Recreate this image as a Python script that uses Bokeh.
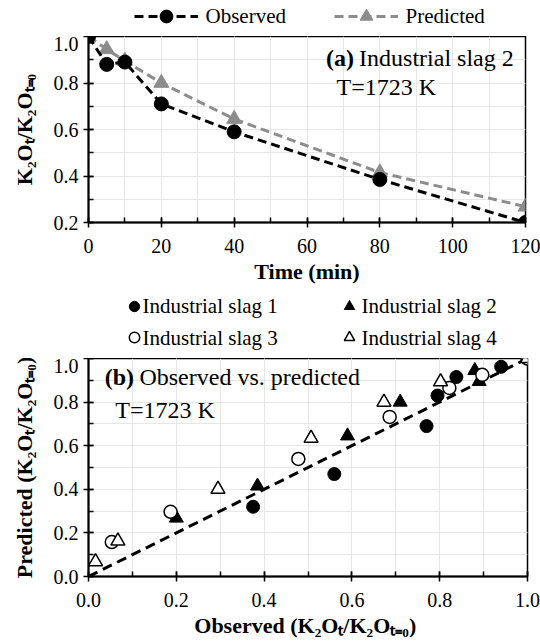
from bokeh.plotting import figure
from bokeh.layouts import column
from bokeh.models import (Range1d, SingleIntervalTicker, PrintfTickFormatter,
                          Legend, LegendItem, Label)
from bokeh.embed import file_html
from bokeh.resources import INLINE

# ---------------- data ----------------
time_min = [0, 5, 10, 20, 40, 80, 120]
observed = [1.0, 0.88, 0.89, 0.71, 0.59, 0.385, 0.20]
predicted = [1.0, 0.945, 0.895, 0.80, 0.645, 0.415, 0.268]

slag1_obs = [0.375, 0.56, 0.77, 0.795, 0.838, 0.94, 1.0]
slag1_pred = [0.32, 0.47, 0.69, 0.83, 0.915, 0.962, 1.0]
slag2_obs = [0.20, 0.385, 0.59, 0.71, 0.88, 0.89, 1.0]
slag2_pred = [0.268, 0.415, 0.645, 0.80, 0.945, 0.895, 1.0]
slag3_obs = [0.053, 0.187, 0.478, 0.686, 0.822, 0.897, 1.0]
slag3_pred = [0.158, 0.297, 0.539, 0.732, 0.865, 0.925, 1.0]
slag4_obs = [0.016, 0.067, 0.295, 0.507, 0.673, 0.802, 1.0]
slag4_pred = [0.068, 0.163, 0.40, 0.634, 0.80, 0.893, 1.0]
fit_x = [0.0, 1.0]
fit_y = [0.0, 1.0]

top_legend_labels = ["Observed", "Predicted"]
bottom_legend_labels = ["Industrial slag 1", "Industrial slag 2",
                        "Industrial slag 3", "Industrial slag 4"]

FONT = "Liberation Serif"
GRID = "#e6e6e6"
GRAY = "#8c8c8c"


def style(p, xint, yint, yfmt, xfmt=None):
    p.outline_line_color = "black"
    p.outline_line_width = 1.5
    p.background_fill_color = "white"
    p.border_fill_color = "white"
    p.xaxis.ticker = SingleIntervalTicker(interval=xint, num_minor_ticks=2)
    p.yaxis.ticker = SingleIntervalTicker(interval=yint, num_minor_ticks=2)
    p.yaxis.formatter = PrintfTickFormatter(format=yfmt)
    if xfmt:
        p.xaxis.formatter = PrintfTickFormatter(format=xfmt)
    for ax in (p.xaxis, p.yaxis):
        ax.axis_line_color = "black"
        ax.axis_line_width = 2
        ax.major_tick_line_color = "black"
        ax.major_tick_line_width = 1.5
        ax.minor_tick_line_color = "black"
        ax.minor_tick_line_width = 1.5
        ax.major_tick_in = 5
        ax.major_tick_out = 5
        ax.minor_tick_in = 5
        ax.minor_tick_out = 0
        ax.major_label_text_font = FONT
        ax.major_label_text_font_size = "20px"
        ax.major_label_text_color = "black"
        ax.axis_label_text_font = FONT
        ax.axis_label_text_font_size = "22px"
        ax.axis_label_text_font_style = "bold"
        ax.axis_label_text_color = "black"
    p.xaxis.major_label_standoff = 11
    p.xaxis.axis_label_standoff = 3
    p.yaxis.major_label_standoff = 5
    p.yaxis.axis_label_standoff = 14
    for g in (p.xgrid, p.ygrid):
        g.grid_line_color = GRID
        g.grid_line_width = 1
        g.minor_grid_line_color = GRID
        g.minor_grid_line_width = 1


def legend_fig(fw, fh, left, right):
    f = figure(frame_width=fw, frame_height=fh, output_backend="svg",
               toolbar_location=None, x_axis_location=None,
               y_axis_location=None, min_border_left=left,
               min_border_right=right, min_border_top=0, min_border_bottom=0,
               x_range=Range1d(0, 1), y_range=Range1d(0, 1))
    f.outline_line_color = None
    f.xgrid.visible = False
    f.ygrid.visible = False
    f.background_fill_color = "white"
    f.border_fill_color = "white"
    return f


def text(fig, x, y, s, bold=False, size="24px"):
    fig.add_layout(Label(x=x, y=y, text=s, text_font=FONT,
                         text_font_size=size,
                         text_font_style="bold" if bold else "normal",
                         text_baseline="middle", text_color="black"))


# ---------------- top panel ----------------
p1 = figure(frame_width=437, frame_height=186, output_backend="svg",
            toolbar_location=None, x_range=Range1d(0, 120),
            y_range=Range1d(0.2, 1.0),
            min_border_left=88, min_border_right=15,
            min_border_top=0, min_border_bottom=66,
            x_axis_label="Time (min)", y_axis_label="K₂Oₜ/K₂Oₜ₌₀")
style(p1, 20, 0.2, "%.1f")

p1.line(time_min, predicted, line_color=GRAY, line_width=3, line_dash="9 5")
p1.scatter(time_min, predicted, marker="triangle", size=15,
           fill_color=GRAY, line_color=GRAY)
p1.line(time_min, observed, line_color="black", line_width=3, line_dash="9 5")
p1.scatter(time_min, observed, marker="circle", size=14,
           fill_color="black", line_color="black")

text(p1, 65.2, 0.908, "(a)", bold=True)
text(p1, 74.3, 0.908, "Industrial slag 2")
text(p1, 68.1, 0.783, "T=1723  K")

# legend strip above the top panel
lg1 = legend_fig(437, 36, 88, 15)
k_obs_l = lg1.line(time_min, observed, line_color="black", line_width=3,
                   line_dash="9 5", visible=False)
k_obs_s = lg1.scatter(time_min, observed, marker="circle", size=14,
                      fill_color="black", line_color="black", visible=False)
k_pre_l = lg1.line(time_min, predicted, line_color=GRAY, line_width=3,
                   line_dash="9 5", visible=False)
k_pre_s = lg1.scatter(time_min, predicted, marker="triangle", size=15,
                      fill_color=GRAY, line_color=GRAY, visible=False)
leg1 = Legend(items=[LegendItem(label=" ", renderers=[k_obs_l, k_obs_s]),
                     LegendItem(label=" ", renderers=[k_pre_l, k_pre_s])],
              location=(46, 4), orientation="horizontal",
              glyph_width=64, glyph_height=32, label_height=32,
              label_width=82, label_standoff=7, spacing=47, padding=0,
              margin=0, border_line_color=None, background_fill_alpha=0,
              label_text_font_size="1px")
lg1.add_layout(leg1, "center")
text(lg1, 0.2677, 0.56, top_legend_labels[0], size="21px")
text(lg1, 0.7254, 0.56, top_legend_labels[1], size="21px")

# ---------------- bottom panel ----------------
p2 = figure(frame_width=439, frame_height=218, output_backend="svg",
            toolbar_location=None, x_range=Range1d(0, 1.0),
            y_range=Range1d(0, 1.0),
            min_border_left=87, min_border_right=14,
            min_border_top=0, min_border_bottom=65,
            x_axis_label="Observed  (K₂Oₜ/K₂Oₜ₌₀)",
            y_axis_label="Predicted (K₂Oₜ/K₂Oₜ₌₀)")
style(p2, 0.2, 0.2, "%.1f", "%.1f")

p2.line(fit_x, fit_y, line_color="black", line_width=3, line_dash="10 6")
p2.scatter(slag1_obs, slag1_pred, marker="circle", size=13,
           fill_color="black", line_color="black")
p2.scatter(slag2_obs, slag2_pred, marker="triangle", size=14,
           fill_color="black", line_color="black")
p2.scatter(slag3_obs, slag3_pred, marker="circle", size=13,
           fill_color="white", line_color="black", line_width=1.5)
p2.scatter(slag4_obs, slag4_pred, marker="triangle", size=14,
           fill_color="white", line_color="black", line_width=1.5)

text(p2, 0.037, 0.913, "(b)", bold=True)
text(p2, 0.116, 0.913, "Observed vs. predicted")
text(p2, 0.061, 0.764, "T=1723  K")

# legend strip above the bottom panel
lg2 = legend_fig(439, 70, 87, 14)
q1 = lg2.scatter(slag1_obs, slag1_pred, marker="circle", size=13,
                 fill_color="black", line_color="black", visible=False)
q2 = lg2.scatter(slag2_obs, slag2_pred, marker="triangle", size=14,
                 fill_color="black", line_color="black", visible=False)
q3 = lg2.scatter(slag3_obs, slag3_pred, marker="circle", size=13,
                 fill_color="white", line_color="black", line_width=1.5,
                 visible=False)
q4 = lg2.scatter(slag4_obs, slag4_pred, marker="triangle", size=14,
                 fill_color="white", line_color="black", line_width=1.5,
                 visible=False)
leg2 = Legend(items=[LegendItem(label=" ", renderers=[q1]),
                     LegendItem(label=" ", renderers=[q2]),
                     LegendItem(label=" ", renderers=[q3]),
                     LegendItem(label=" ", renderers=[q4])],
              location=(33, 8), orientation="horizontal", ncols=2,
              glyph_width=26, glyph_height=26, label_height=26,
              label_width=184, label_standoff=0, spacing=5, padding=0,
              margin=0, border_line_color=None, background_fill_alpha=0,
              label_text_font_size="1px")
lg2.add_layout(leg2, "center")
text(lg2, 0.123, 0.743, bottom_legend_labels[0], size="21px")
text(lg2, 0.622, 0.743, bottom_legend_labels[1], size="21px")
text(lg2, 0.123, 0.300, bottom_legend_labels[2], size="21px")
text(lg2, 0.622, 0.300, bottom_legend_labels[3], size="21px")

layout = column(lg1, p1, lg2, p2, spacing=0)
open("out.html", "w").write(file_html(layout, INLINE))
